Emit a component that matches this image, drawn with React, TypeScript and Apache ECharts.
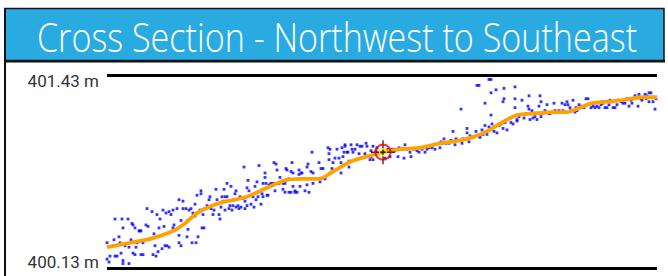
import React, { useEffect, useRef } from "react";
import * as echarts from "echarts";

const titleText = "Cross Section - Northwest to Southeast";
const elevationTicks = [400.13, 401.43];
const distanceRange = [0, 55];

// smoothed ground profile [distance m, elevation m]
const profileLine: number[][] = [
  [0.0, 400.27], [2.3, 400.3], [4.5, 400.33], [6.3, 400.37], [7.6, 400.42], [9.0, 400.5],
  [10.5, 400.55], [12.0, 400.58], [14.0, 400.61], [16.0, 400.67], [17.8, 400.72], [19.3, 400.73],
  [21.2, 400.73], [22.6, 400.78], [24.5, 400.85], [26.5, 400.89], [27.6, 400.91], [29.3, 400.93],
  [31.3, 400.94], [33.3, 400.97], [35.3, 400.99], [36.5, 401.01], [38.0, 401.05], [39.5, 401.11],
  [41.0, 401.16], [42.5, 401.17], [45.0, 401.18], [46.0, 401.18], [47.3, 401.21], [48.5, 401.24],
  [50.0, 401.25], [51.5, 401.26], [53.5, 401.28], [55.0, 401.28],
];

// selected location on the section
const selectedPoint: number[] = [27.6, 400.91];

// raw survey points, northwest half
const surveyNorthwest: number[][] = [
  [0.0, 400.3], [0.0, 400.19], [0.2, 400.17], [0.3, 400.21], [0.7, 400.32], [0.8, 400.46], [0.8, 400.21],
  [1.0, 400.21], [1.2, 400.34], [1.3, 400.3], [1.4, 400.23], [1.5, 400.46], [1.6, 400.18], [1.6, 400.4],
  [1.6, 400.16], [1.8, 400.28], [2.1, 400.46], [2.2, 400.27], [2.2, 400.16], [2.4, 400.32], [2.5, 400.43],
  [2.6, 400.23], [2.6, 400.42], [2.8, 400.4], [2.8, 400.22], [2.9, 400.27], [3.0, 400.3], [3.2, 400.38],
  [3.3, 400.38], [3.4, 400.22], [3.4, 400.38], [3.6, 400.22], [3.6, 400.3], [3.9, 400.42], [4.0, 400.53],
  [4.1, 400.41], [4.2, 400.32], [4.3, 400.33], [4.5, 400.51], [4.6, 400.22], [4.7, 400.36], [4.8, 400.28],
  [4.9, 400.21], [5.0, 400.49], [5.1, 400.24], [5.2, 400.4], [5.3, 400.46], [5.5, 400.26], [5.6, 400.52],
  [5.7, 400.41], [5.8, 400.28], [5.9, 400.5], [6.0, 400.28], [6.2, 400.51], [6.2, 400.27], [6.4, 400.49],
  [6.6, 400.52], [6.6, 400.4], [6.7, 400.42], [7.0, 400.53], [7.2, 400.59], [7.2, 400.35], [7.2, 400.3],
  [7.4, 400.45], [7.4, 400.28], [7.6, 400.53], [7.6, 400.58], [7.9, 400.53], [8.0, 400.34], [8.1, 400.39],
  [8.1, 400.45], [8.2, 400.52], [8.4, 400.53], [8.5, 400.3], [8.6, 400.5], [8.8, 400.48], [8.8, 400.56],
  [8.9, 400.3], [9.0, 400.62], [9.1, 400.34], [9.3, 400.52], [9.4, 400.65], [9.4, 400.63], [9.5, 400.4],
  [9.6, 400.49], [9.7, 400.4], [9.8, 400.53], [10.0, 400.55], [10.2, 400.59], [10.3, 400.61], [10.4, 400.53],
  [10.6, 400.49], [10.7, 400.52], [10.9, 400.66], [11.0, 400.59], [11.2, 400.49], [11.3, 400.46], [11.4, 400.54],
  [11.5, 400.61], [11.6, 400.58], [11.7, 400.66], [11.8, 400.52], [11.8, 400.61], [12.0, 400.61], [12.0, 400.7],
  [12.2, 400.53], [12.3, 400.55], [12.4, 400.68], [12.5, 400.52], [12.6, 400.55], [12.7, 400.59], [12.8, 400.63],
  [12.9, 400.65], [12.9, 400.54], [13.1, 400.55], [13.2, 400.53], [13.3, 400.61], [13.4, 400.54], [13.6, 400.6],
  [13.7, 400.81], [13.8, 400.53], [13.8, 400.58], [14.0, 400.67], [14.0, 400.55], [14.1, 400.72], [14.2, 400.65],
  [14.4, 400.56], [14.6, 400.61], [14.7, 400.54], [14.8, 400.68], [14.9, 400.59], [15.0, 400.71], [15.1, 400.61],
  [15.2, 400.82], [15.4, 400.56], [15.5, 400.63], [15.6, 400.7], [15.6, 400.61], [15.8, 400.77], [15.8, 400.74],
  [15.9, 400.7], [16.0, 400.62], [16.1, 400.62], [16.2, 400.69], [16.4, 400.7], [16.6, 400.7], [16.7, 400.84],
  [16.8, 400.65], [16.9, 400.83], [17.0, 400.79], [17.2, 400.7], [17.3, 400.74], [17.6, 400.7], [17.6, 400.66],
  [17.8, 400.64], [17.8, 400.7], [17.9, 400.8], [18.0, 400.79], [18.2, 400.64], [18.2, 400.73], [18.4, 400.78],
  [18.4, 400.64], [18.5, 400.84], [18.6, 400.68], [18.6, 400.77], [18.8, 400.65], [18.8, 400.64], [19.0, 400.64],
  [19.2, 400.79], [19.2, 400.76], [19.3, 400.68], [19.4, 400.77], [19.5, 400.77], [19.8, 400.65], [20.0, 400.81],
  [20.0, 400.69], [20.1, 400.83], [20.2, 400.64], [20.4, 400.78], [20.5, 400.91], [20.6, 400.77], [20.6, 400.7],
  [21.2, 400.84], [21.3, 400.71], [21.4, 400.8], [21.6, 400.8], [21.8, 400.73], [22.1, 400.94], [22.2, 400.9],
  [22.2, 400.86], [22.3, 400.93], [22.5, 400.8], [22.6, 400.84], [22.8, 400.87], [23.0, 400.93], [23.2, 400.87],
  [23.4, 400.77], [23.4, 400.84], [23.5, 400.94], [23.6, 400.88], [23.7, 400.91], [23.8, 400.96], [23.8, 400.95],
  [24.0, 400.91], [24.1, 400.91], [24.2, 400.81], [24.2, 400.85], [24.4, 400.96], [24.5, 400.93], [24.6, 400.91],
  [24.8, 400.93], [25.0, 400.96], [25.2, 400.9], [25.3, 400.95], [25.5, 400.95], [25.8, 400.9], [25.9, 400.97],
  [26.0, 400.95], [26.3, 400.86], [26.4, 400.88], [26.6, 400.95],
];

// raw survey points, southeast half
const surveySoutheast: number[][] = [
  [26.4, 400.92], [26.6, 400.86], [26.9, 400.92], [27.0, 400.94], [27.3, 400.9], [27.8, 400.87], [28.0, 400.92],
  [28.1, 400.93], [28.3, 400.88], [28.5, 400.93], [28.7, 400.93], [28.8, 400.92], [29.1, 400.88], [29.2, 400.94],
  [29.5, 400.93], [29.7, 400.87], [29.8, 400.96], [30.0, 400.93], [30.3, 400.91], [30.4, 400.88], [30.7, 400.93],
  [31.0, 400.92], [31.2, 400.91], [31.3, 400.94], [31.5, 400.93], [31.8, 400.91], [32.0, 400.93], [32.2, 400.94],
  [32.5, 400.94], [32.8, 400.93], [33.3, 400.94], [33.4, 400.98], [33.5, 400.97], [33.7, 401.0], [33.9, 400.97],
  [34.2, 400.97], [34.4, 400.99], [34.6, 401.05], [34.8, 400.96], [34.9, 401.0], [35.0, 400.99], [35.4, 401.2],
  [35.5, 400.97], [35.6, 401.0], [36.0, 401.04], [36.0, 401.07], [36.2, 400.98], [36.3, 401.02], [36.6, 401.01],
  [36.9, 401.05], [37.0, 401.36], [37.2, 401.02], [37.2, 401.36], [37.3, 401.01], [37.5, 401.06], [37.6, 401.03],
  [37.8, 401.24], [37.8, 401.09], [38.0, 401.03], [38.2, 401.08], [38.2, 401.4], [38.4, 401.31], [38.4, 401.16],
  [38.4, 401.4], [38.5, 401.1], [38.7, 401.05], [38.9, 401.33], [39.0, 401.04], [39.2, 401.09], [39.4, 401.1],
  [39.6, 401.07], [39.6, 401.25], [39.7, 401.27], [39.7, 401.34], [39.8, 401.11], [40.0, 401.13], [40.0, 401.06],
  [40.3, 401.14], [40.4, 401.11], [40.6, 401.1], [40.8, 401.35], [40.8, 401.27], [40.8, 401.21], [41.0, 401.12],
  [41.0, 401.13], [41.2, 401.15], [41.5, 401.26], [41.7, 401.14], [41.9, 401.17], [42.1, 401.22], [42.2, 401.29],
  [42.2, 401.2], [42.3, 401.13], [42.5, 401.19], [42.6, 401.14], [42.8, 401.15], [43.0, 401.13], [43.2, 401.22],
  [43.3, 401.29], [43.4, 401.25], [43.4, 401.15], [43.5, 401.17], [43.8, 401.19], [44.0, 401.23], [44.2, 401.17],
  [44.3, 401.17], [44.5, 401.18], [44.7, 401.24], [44.8, 401.19], [45.0, 401.18], [45.2, 401.19], [45.5, 401.24],
  [45.6, 401.19], [45.7, 401.18], [45.8, 401.23], [46.0, 401.25], [46.1, 401.23], [46.3, 401.21], [46.4, 401.19],
  [46.6, 401.26], [46.8, 401.18], [46.9, 401.21], [47.0, 401.19], [47.2, 401.23], [47.4, 401.22], [47.7, 401.21],
  [47.9, 401.27], [48.1, 401.27], [48.4, 401.21], [48.6, 401.22], [48.7, 401.24], [48.8, 401.21], [49.0, 401.22],
  [49.2, 401.21], [49.4, 401.23], [49.5, 401.25], [49.6, 401.24], [49.8, 401.21], [50.0, 401.21], [50.2, 401.23],
  [50.3, 401.26], [50.5, 401.25], [50.6, 401.21], [50.8, 401.21], [51.0, 401.23], [51.1, 401.26], [51.4, 401.25],
  [51.6, 401.24], [51.8, 401.24], [52.0, 401.27], [52.2, 401.22], [52.4, 401.26], [52.5, 401.24], [52.7, 401.27],
  [52.8, 401.29], [53.0, 401.28], [53.1, 401.22], [53.2, 401.3], [53.4, 401.27], [53.5, 401.26], [53.6, 401.28],
  [53.8, 401.3], [53.9, 401.27], [54.0, 401.29], [54.2, 401.25], [54.2, 401.31], [54.4, 401.31], [54.5, 401.28],
  [54.6, 401.25], [54.8, 401.2], [54.9, 401.27],
];

const W = 668;
const H = 276;

export default function App() {
  const ref = useRef<HTMLDivElement>(null);

  useEffect(() => {
    if (!ref.current) return;
    const chart = echarts.init(ref.current, null, { renderer: "svg", width: W, height: H });

    const titleFont = '300 41px "Open Sans"';
    let titleScale = 1;
    try {
      const c = document.createElement("canvas").getContext("2d");
      if (c) {
        c.font = titleFont;
        const w = c.measureText(titleText).width;
        if (w > 0) titleScale = 600 / w;
      }
    } catch (e) {}

    const markerSymbol = "path://M-12,-0.7h24v1.4h-24z M-0.7,-12h1.4v24h-1.4z";
    const dotStyle = { color: "#0000ff" };

    chart.setOption({
      animation: false,
      backgroundColor: "#ffffff",
      grid: { left: 107, right: 11, top: 75, bottom: 8 },
      xAxis: {
        type: "value",
        min: distanceRange[0],
        max: distanceRange[1],
        show: false,
      },
      yAxis: {
        type: "value",
        min: elevationTicks[0],
        max: elevationTicks[1],
        show: false,
      },
      graphic: [
        {
          type: "rect",
          shape: { x: 5, y: 8.5, width: 659, height: 52 },
          style: { fill: "#29ABE2", stroke: "#111", lineWidth: 1.5 },
          z: 10,
        },
        {
          type: "line",
          shape: { x1: 4, y1: 61.2, x2: 665, y2: 61.2 },
          style: { stroke: "#111", lineWidth: 2.5 },
          z: 11,
        },
        {
          type: "line",
          shape: { x1: 5, y1: 8, x2: 5, y2: 276 },
          style: { stroke: "#111", lineWidth: 2 },
          z: 11,
        },
        {
          type: "text",
          x: 337,
          y: 36,
          scaleX: titleScale,
          z: 12,
          style: {
            text: titleText,
            fill: "#ffffff",
            font: titleFont,
            align: "center",
            verticalAlign: "middle",
            textAlign: "center",
            textVerticalAlign: "middle",
          },
        },
      ],
      series: [
        {
          type: "scatter",
          data: surveyNorthwest,
          symbol: "rect",
          symbolSize: 2.8,
          itemStyle: dotStyle,
          silent: true,
          z: 2,
        },
        {
          type: "scatter",
          data: surveySoutheast,
          symbol: "rect",
          symbolSize: 2.8,
          itemStyle: dotStyle,
          silent: true,
          z: 2,
        },
        {
          type: "line",
          data: profileLine,
          smooth: 0.3,
          showSymbol: false,
          symbol: "none",
          lineStyle: { color: "#FFA200", width: 3.8 },
          silent: true,
          z: 3,
          markLine: {
            silent: true,
            symbol: ["none", "none"],
            lineStyle: { color: "#000000", width: 3, type: "solid" },
            label: {
              position: "start",
              distance: 8,
              color: "#333333",
              fontSize: 17,
              fontFamily: "Roboto",
              lineHeight: 12,
              formatter: (p: any) => Number(p.value).toFixed(2) + " m",
            },
            data: [
              { yAxis: elevationTicks[1], label: { verticalAlign: "top" } },
              { yAxis: elevationTicks[0], label: { verticalAlign: "bottom" } },
            ],
          },
        },
        {
          type: "scatter",
          data: [selectedPoint],
          symbol: markerSymbol,
          symbolSize: [24, 24],
          itemStyle: { color: "#000000" },
          silent: true,
          z: 5,
        },
        {
          type: "scatter",
          data: [selectedPoint],
          symbol: "circle",
          symbolSize: 15,
          itemStyle: { color: "rgba(0,0,0,0)", borderColor: "#ff0000", borderWidth: 2 },
          silent: true,
          z: 6,
        },
        {
          type: "scatter",
          data: [selectedPoint],
          symbol: "circle",
          symbolSize: 7,
          itemStyle: { color: "rgba(0,0,0,0)", borderColor: "#ffff00", borderWidth: 1.5 },
          silent: true,
          z: 7,
        },
      ],
    });

    return () => chart.dispose();
  }, []);

  return (
    <div
      ref={ref}
      style={{ position: "absolute", left: 0, top: 0, width: W, height: H, background: "#fff" }}
    />
  );
}
